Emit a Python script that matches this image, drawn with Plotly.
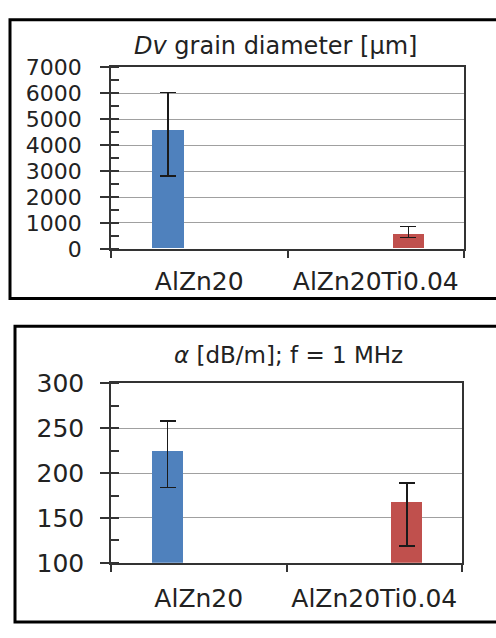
import plotly.graph_objects as go

W, H = 496, 638

categories = ["AlZn20", "AlZn20Ti0.04"]

# Top chart: Dv grain diameter [µm]
dv_values = [4570, 540]
dv_upper = [6030, 867]
dv_lower = [2810, 433]
dv_ticks = [0, 1000, 2000, 3000, 4000, 5000, 6000, 7000]

# Bottom chart: alpha [dB/m], f = 1 MHz
al_values = [224, 167]
al_upper = [258, 189]
al_lower = [184, 119]
al_ticks = [100, 150, 200, 250, 300]

colors = ["#4F81BD", "#C0504D"]
offsets = [-0.266, 0.096]
FONT = "DejaVu Sans"

fig = go.Figure()


def add_bars(vals, up, lo, xa, ya):
    for i in range(2):
        fig.add_trace(go.Bar(
            x=[categories[i]], y=[vals[i]],
            width=0.178, offset=offsets[i],
            marker=dict(color=colors[i], line=dict(width=0)),
            error_y=dict(type="data", symmetric=False,
                         array=[up[i] - vals[i]], arrayminus=[vals[i] - lo[i]],
                         color="#1a1a1a", thickness=1.6, width=8),
            xaxis=xa, yaxis=ya, showlegend=False,
        ))


add_bars(dv_values, dv_upper, dv_lower, "x", "y")
add_bars(al_values, al_upper, al_lower, "x2", "y2")


def px_y(p):
    return 1 - p / H


def px_x(p):
    return p / W


xcommon = dict(type="category", categoryorder="array", categoryarray=categories,
               range=[-0.5, 1.5], tickson="boundaries", ticks="outside", ticklen=7,
               tickcolor="#333333", tickwidth=1.5,
               showline=True, linecolor="#333333", linewidth=1.5, mirror=True,
               showgrid=False, tickfont=dict(family=FONT, size=25, color="#222222"),
               fixedrange=True)

ycommon = dict(ticks="outside", ticklen=9, tickcolor="#333333", tickwidth=1.5,
               showline=True, linecolor="#333333", linewidth=1.5, mirror=True,
               showgrid=True, gridcolor="#A0A0A0", gridwidth=1.2, zeroline=False,
               fixedrange=True)

fig.update_layout(
    width=W, height=H,
    margin=dict(l=0, r=0, t=0, b=0),
    paper_bgcolor="white", plot_bgcolor="white",
    barmode="overlay",
    bargap=0,
    xaxis=dict(domain=[px_x(111), px_x(464)], anchor="y", **xcommon,
               ticklabelstandoff=9),
    yaxis=dict(domain=[px_y(246), px_y(56)], anchor="x", range=[0, 7000],
               tickvals=dv_ticks, ticklabelstandoff=14,
               tickfont=dict(family=FONT, size=22, color="#222222"),
               minor=dict(ticks="inside", ticklen=8, dtick=500, tick0=0,
                          tickcolor="#333333", tickwidth=1.5, showgrid=False),
               **ycommon),
    xaxis2=dict(domain=[px_x(111), px_x(462)], anchor="y2", **xcommon,
                ticklabelstandoff=12),
    yaxis2=dict(domain=[px_y(575), px_y(387)], anchor="x2", range=[100, 300],
                tickvals=al_ticks, ticklabelstandoff=11,
                tickfont=dict(family=FONT, size=25, color="#222222"),
                minor=dict(ticks="inside", ticklen=8, dtick=25, tick0=100,
                           tickcolor="#333333", tickwidth=1.5, showgrid=False),
                **ycommon),
    shapes=[
        dict(type="rect", xref="paper", yref="paper",
             x0=px_x(10), x1=1.05, y0=px_y(298), y1=px_y(6),
             line=dict(color="black", width=3), fillcolor="rgba(0,0,0,0)", layer="above"),
        dict(type="rect", xref="paper", yref="paper",
             x0=px_x(15), x1=1.05, y0=px_y(637), y1=px_y(327),
             line=dict(color="black", width=3), fillcolor="rgba(0,0,0,0)", layer="above"),
    ],
    annotations=[
        dict(text="<i>Dv</i> grain diameter [µm]", xref="paper", yref="paper",
             x=px_x(275), y=px_y(33), xanchor="center", yanchor="middle",
             showarrow=False, font=dict(family=FONT, size=24, color="#222222")),
        dict(text="<i>α</i> [dB/m]; f = 1 MHz", xref="paper", yref="paper",
             x=px_x(288), y=px_y(357), xanchor="center", yanchor="middle",
             showarrow=False, font=dict(family=FONT, size=23, color="#222222")),
    ],
)

fig.write_html("out.html")
